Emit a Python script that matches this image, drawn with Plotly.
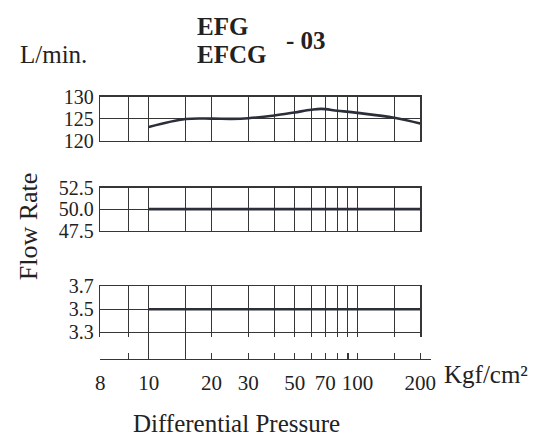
import math
import plotly.graph_objects as go

# ---- data ----
pressure_top = [10, 15, 20, 25, 30, 40, 50, 60, 67, 80, 100, 150, 200]
flow_top = [123.1, 124.9, 125.0, 124.95, 125.1, 125.7, 126.4, 127.0, 127.2, 126.8, 126.3, 125.2, 123.9]
pressure_mid = [10, 200]
flow_mid = [50.0, 50.0]
pressure_bot = [10, 200]
flow_bot = [3.5, 3.5]

grid_x = [8, 10, 15, 20, 30, 40, 50, 60, 70, 80, 90, 100, 150, 200]
x_left = 5.85
bottom_tickvals = [x_left] + grid_x
bottom_ticktext = ["8", "", "10", "", "20", "30", "", "50", "", "70", "", "", "100", "", "200"]
top_ticks = [120, 125, 130]
mid_ticks = [47.5, 50.0, 52.5]
bot_ticks = [3.3, 3.5, 3.7]

W, H = 547, 443
def fx(p): return p / W
def fy(p): return 1 - p / H

FONT = "Liberation Serif, Times New Roman, serif"
GRID = "#363636"
LINE = "#2b2f3a"
xr = [math.log10(x_left), math.log10(200)]
xl, xrt = 97, 423
ppd = (xrt - xl) / (xr[1] - xr[0])

fig = go.Figure()
fig.add_trace(go.Scatter(x=pressure_top, y=flow_top, mode="lines", line=dict(color=LINE, width=2.6, shape="spline", smoothing=1.0), xaxis="x", yaxis="y", showlegend=False))
fig.add_trace(go.Scatter(x=pressure_mid, y=flow_mid, mode="lines", line=dict(color=LINE, width=2.6), xaxis="x2", yaxis="y2", showlegend=False))
fig.add_trace(go.Scatter(x=pressure_bot, y=flow_bot, mode="lines", line=dict(color=LINE, width=2.6), xaxis="x3", yaxis="y3", showlegend=False))
fig.add_trace(go.Scatter(x=[x_left], y=[0], mode="markers", marker=dict(opacity=0), xaxis="x4", yaxis="y4", showlegend=False, hoverinfo="skip"))

xcommon = dict(type="log", range=xr, domain=[fx(xl), fx(xrt)], tickmode="array", tickvals=grid_x,
               showticklabels=False, ticks="", showgrid=True, gridcolor=GRID, gridwidth=1,
               zeroline=False, fixedrange=True)
ycommon = dict(tickmode="array", showgrid=True, gridcolor=GRID, gridwidth=1, zeroline=False,
               showline=True, linecolor=GRID, linewidth=1.4, mirror=True, ticks="", ticklen=0,
               tickfont=dict(family=FONT, size=20, color="#222"), ticklabelstandoff=1, fixedrange=True)

layout = dict(
    width=W, height=H, margin=dict(l=0, r=0, t=0, b=0),
    paper_bgcolor="white", plot_bgcolor="white", showlegend=False,
    xaxis=dict(**xcommon, anchor="y", showline=True, linecolor=GRID, linewidth=1.4, mirror=True),
    yaxis=dict(**ycommon, anchor="x", domain=[fy(136.5), fy(90)], range=[120, 130], tickvals=top_ticks,
               ticktext=["120", "125", "130"]),
    xaxis2=dict(**xcommon, anchor="y2", showline=True, linecolor=GRID, linewidth=1.4, mirror=True),
    yaxis2=dict(**ycommon, anchor="x2", domain=[fy(231), fy(186)], range=[47.5, 52.5], tickvals=mid_ticks,
                ticktext=["47.5", "50.0", "52.5"]),
    xaxis3=dict(**xcommon, anchor="y3", side="top", showline=True, linecolor=GRID, linewidth=1.4),
    yaxis3=dict(**ycommon, anchor="x3", domain=[fy(343), fy(289.5)], range=[3.3 - 0.2 * 9 / 44.5, 3.7],
                tickvals=bot_ticks, ticktext=["3.3", "3.5", "3.7"]),
    xaxis4=dict(type="log", range=[xr[0], xr[1] + 10.5 / ppd], domain=[fx(xl), fx(xrt + 10.5)],
                anchor="y4", tickmode="array", tickvals=bottom_tickvals, ticktext=bottom_ticktext,
                ticks="inside", ticklen=6, tickwidth=1.2, tickcolor=GRID,
                showline=True, linecolor=GRID, linewidth=1.6, showgrid=False, zeroline=False,
                tickfont=dict(family=FONT, size=21, color="#222"), ticklabelstandoff=4,
                minor=dict(tickmode="array", tickvals=[10, 15], showgrid=True, gridcolor=GRID, gridwidth=1, ticks=""),
                fixedrange=True),
    yaxis4=dict(anchor="x4", domain=[fy(366), fy(343)], range=[0, 1], visible=False, fixedrange=True),
)
fig.update_layout(**layout)

ann = [
    dict(text="L/min.", x=fx(13), y=fy(46), xanchor="left", yanchor="middle", font=dict(size=25)),
    dict(text="<b>EFG</b>", x=fx(194), y=fy(16), xanchor="left", yanchor="middle", font=dict(size=25)),
    dict(text="<b>EFCG</b>", x=fx(194), y=fy(46), xanchor="left", yanchor="middle", font=dict(size=25)),
    dict(text="<b>- 03</b>", x=fx(284), y=fy(31), xanchor="left", yanchor="middle", font=dict(size=25)),
    dict(text="Flow Rate", x=fx(24), y=fy(227), xanchor="center", yanchor="middle", textangle=-90, font=dict(size=26)),
    dict(text="Kgf/cm²", x=fx(445), y=fy(383), xanchor="left", yanchor="middle", font=dict(size=25)),
    dict(text="Differential Pressure", x=fx(236), y=fy(434), xanchor="center", yanchor="middle", font=dict(size=25)),
]
for a in ann:
    a.update(xref="paper", yref="paper", showarrow=False)
    a["font"].update(family=FONT, color="#222")
fig.update_layout(annotations=ann)

fig.write_html("out.html", config={"displayModeBar": False, "staticPlot": True},
               post_script="document.body.style.margin='0';document.body.style.overflow='hidden';")
